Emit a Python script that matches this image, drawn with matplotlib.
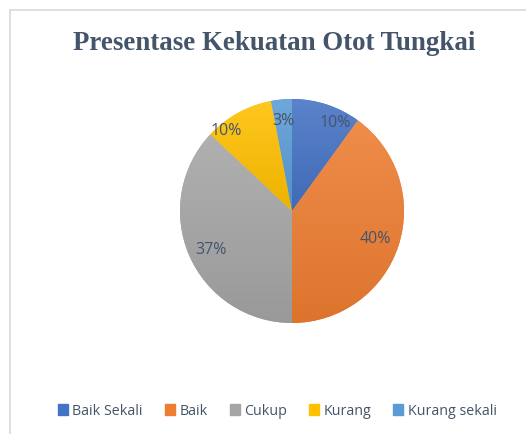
import numpy as np
import matplotlib
matplotlib.use('Agg')
import matplotlib.pyplot as plt
from matplotlib.colors import to_rgb
from matplotlib.patches import Rectangle

title = "Presentase Kekuatan Otot Tungkai"
categories = ["Baik Sekali", "Baik", "Cukup", "Kurang", "Kurang sekali"]
values = [10, 40, 37, 10, 3]
colors = ["#4472C4", "#ED7D31", "#A5A5A5", "#FFC000", "#5B9BD5"]

W, H = 526, 435
fig = plt.figure(figsize=(W / 100, H / 100), dpi=100)
fig.patch.set_facecolor('white')

# light chart-area border (runs off the right/bottom edge)
fig.patches.append(Rectangle((10 / W, -0.1), 1.2, 1 - 11 / H + 0.1,
                             transform=fig.transFigure, fill=False,
                             edgecolor='#D9D9D9', linewidth=1.2))

fig.text(0.521, 1 - 43 / H, title, ha='center', va='center',
         fontsize=19.4, fontweight='bold', family='Liberation Serif', color='#44546A')

# pie axes: centre (292, 212) px, radius 112 px
cx, cy, r = 292, 212, 112
pad = 1.05
ax = fig.add_axes([(cx - r * pad) / W, (H - cy - r * pad) / H, 2 * r * pad / W, 2 * r * pad / H])
wedges, _ = ax.pie(values, colors=colors, startangle=90, counterclock=False,
                   wedgeprops=dict(linewidth=0))
ax.set_aspect('auto')
ax.axis('off')


def shade(c, f):
    c = np.array(to_rgb(c))
    if f >= 0:
        return c + (1 - c) * f
    return c * (1 + f)


# vertical gradient on each slice, lighter at top
for w, c in zip(wedges, colors):
    ext = w.get_path().get_extents()
    top, bot = shade(c, 0.12), shade(c, -0.07)
    t = np.linspace(0, 1, 64)[:, None]
    grad = (bot[None, :] * (1 - t) + top[None, :] * t)[:, None, :]
    im = ax.imshow(grad, extent=[ext.x0, ext.x1, ext.y0, ext.y1], origin='lower',
                   aspect='auto', interpolation='bilinear', zorder=2)
    im.set_clip_path(w)
ax.set_xlim(-pad, pad)
ax.set_ylim(-pad, pad)

# percentage labels placed inside the slices (best-fit style nudges)
label_dist = [0.88, 0.78, 0.8, 0.93, 0.82]
label_turn = [-8, 0, 2, 10, 0]
for w, v, d, dt in zip(wedges, values, label_dist, label_turn):
    ang = np.deg2rad((w.theta1 + w.theta2) / 2 + dt)
    ax.text(d * np.cos(ang), d * np.sin(ang), f"{v}%", ha='center', va='center',
            fontsize=11.5, family='Open Sans', color='#44546A', zorder=5)

handles = [Rectangle((0, 0), 1, 1, color=c) for c in colors]
fig.legend(handles, categories, loc='center', bbox_to_anchor=(0.527, 1 - 412 / H),
           ncol=5, frameon=False, handlelength=0.7, handleheight=0.7,
           handletextpad=0.3, columnspacing=1.55,
           prop=dict(family='Open Sans', size=10.3), labelcolor='#44546A')

fig.savefig('out.png', dpi=100)
